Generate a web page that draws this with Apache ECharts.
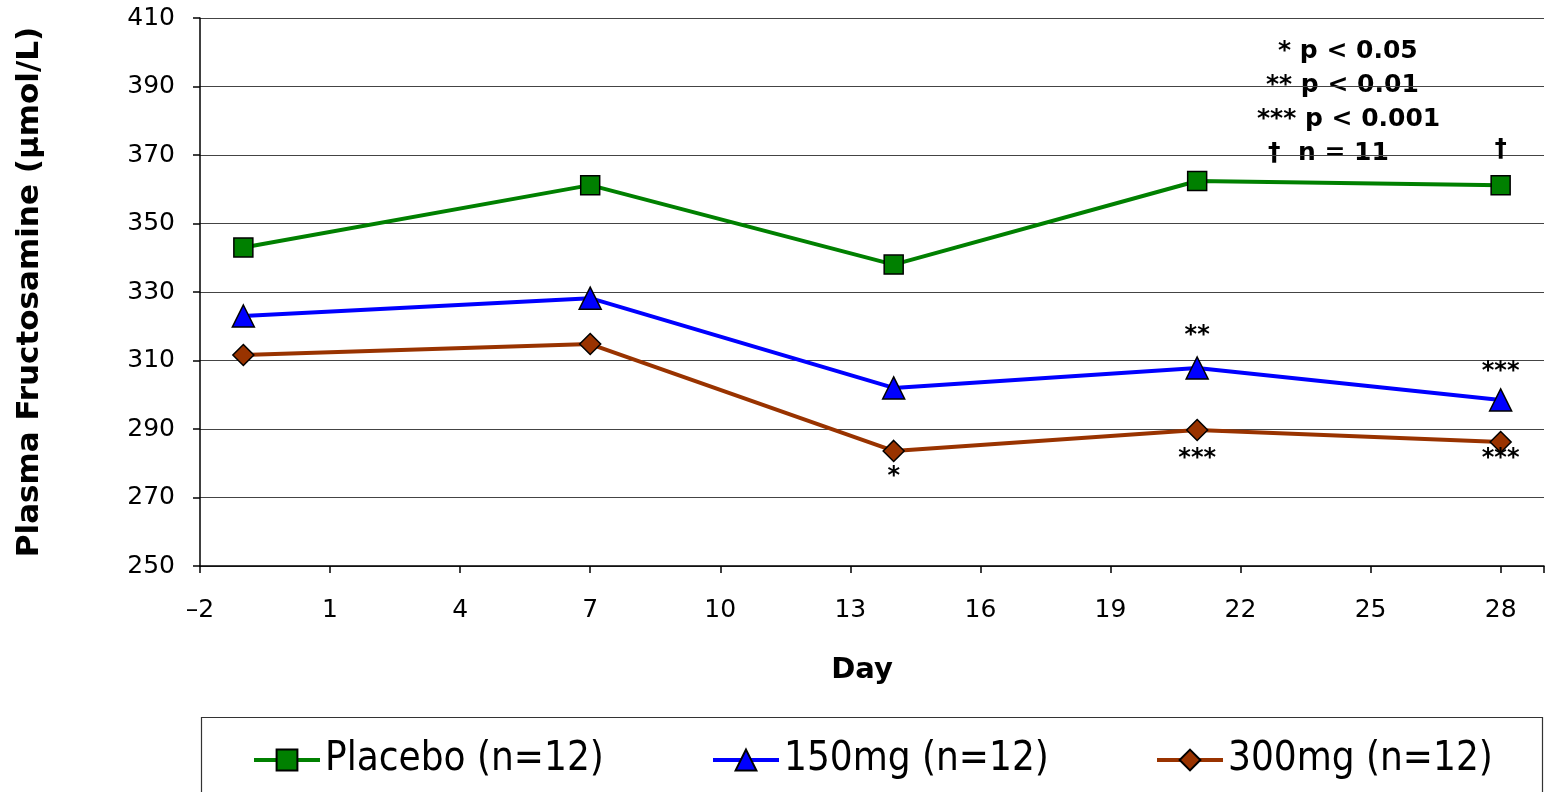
<!DOCTYPE html>
<html>
<head>
<meta charset="utf-8">
<script src="https://cdn.jsdelivr.net/npm/echarts@6/dist/echarts.min.js"></script>
<style>html,body{margin:0;padding:0;background:#fff}#c{width:1547px;height:792px}</style>
</head>
<body>
<div id="c"></div>
<script>
// Data
const days = [-1, 7, 14, 21, 28];
const placebo = [343, 361.2, 338, 362.4, 361.2];
const mg150 = [323, 328.2, 302, 307.8, 298.5];
const mg300 = [311.6, 314.8, 283.6, 289.7, 286.2];
const placeboMarks = ['', '', '', '', '†'];
const mg150Marks = ['', '', '', '**', '***'];
const mg300Marks = ['', '', '*', '***', '***'];
const seriesNames = ['Placebo (n=12)', '150mg (n=12)', '300mg (n=12)'];
const noteLines = ['* p < 0.05', '** p < 0.01', '*** p < 0.001', '†  n = 11'];
const xMin = -2, xMax = 29, xStep = 3;
const yMin = 250, yMax = 410, yStep = 20;

// label placement (styling, not data)
const placeboMarkDist = [0, 0, 0, 0, 13];
const mg150MarkDist = [0, 0, 0, 9, 4];
const mg300MarkDist = [0, 0, 3, 5, -6];

// shift x so that min is a multiple of the interval
const SHIFT = 2;
const font = '"DejaVu Sans", "Open Sans", sans-serif';

function build(vals, marks, pos, dists) {
  return days.map((d, i) => {
    const item = { value: [d + SHIFT, vals[i]] };
    if (marks[i]) {
      item.label = {
        show: true, formatter: marks[i], position: pos, distance: dists[i],
        fontFamily: 'DejaVu Sans', fontSize: 24, fontWeight: 'bold', color: '#000'
      };
    }
    return item;
  });
}

const chart = echarts.init(document.getElementById('c'), null, { renderer: 'canvas' });

chart.setOption({
  animation: false,
  backgroundColor: '#fff',
  grid: { left: 200, right: 0, top: 18, bottom: 226, containLabel: false },
  xAxis: {
    type: 'value',
    min: xMin + SHIFT, max: xMax + SHIFT, interval: xStep,
    name: 'Day', nameLocation: 'middle', nameGap: 90,
    nameTextStyle: { fontFamily: font, fontSize: 29, fontWeight: 'bold', color: '#000', padding: [0, 20, 0, 0] },
    axisLine: { show: true, lineStyle: { color: '#000', width: 1.5 } },
    axisTick: { show: true, length: 7, lineStyle: { color: '#000', width: 1.5 } },
    axisLabel: {
      fontFamily: font, fontSize: 25, color: '#000', margin: 32,
      formatter: v => {
        const d = Math.round(v - SHIFT);
        if ((d - xMin) % xStep !== 0) return '';
        return d < 0 ? '\u2013' + Math.abs(d) : String(d);
      }
    },
    splitLine: { show: false }
  },
  yAxis: {
    type: 'value', min: yMin, max: yMax, interval: yStep,
    name: 'Plasma Fructosamine (\u00b5mol/L)', nameLocation: 'middle', nameGap: 155,
    nameTextStyle: { fontFamily: font, fontSize: 31, fontWeight: 'bold', color: '#000' },
    axisLine: { show: true, lineStyle: { color: '#000', width: 1.5 } },
    axisTick: { show: true, length: 7, lineStyle: { color: '#000', width: 1.5 } },
    axisLabel: { fontFamily: font, fontSize: 25, color: '#000', margin: 25 },
    splitLine: { show: true, lineStyle: { color: '#444', width: 1.2 } }
  },
  legend: [
    { data: [seriesNames[0]], left: 252, top: 740 },
    { data: [seriesNames[1]], left: 711, top: 740 },
    { data: [seriesNames[2]], left: 1155, top: 740 }
  ].map(l => Object.assign(l, {
    padding: 0, itemWidth: 66, itemHeight: 26, itemGap: 5,
    lineStyle: { width: 4 },
    textStyle: { fontFamily: '"DejaVu Sans Condensed", "Liberation Sans Narrow", "Open Sans", sans-serif', fontSize: 40, color: '#000' }
  })),
  graphic: [
    { type: 'rect', left: 199, top: 715, shape: { width: 1341, height: 100 },
      style: { fill: 'none', stroke: '#333', lineWidth: 1.2 }, silent: true },
    ...noteLines.map((t, i) => ({
      type: 'text', left: [1278, 1266, 1257, 1268][i], top: 39 + i * 34,
      style: { text: t, font: 'bold 25px ' + font, fill: '#000' }
    }))
  ],
  series: [
    { name: seriesNames[0], type: 'line', data: build(placebo, placeboMarks, 'top', placeboMarkDist),
      symbol: 'rect', symbolSize: 19,
      lineStyle: { color: '#008000', width: 4 },
      itemStyle: { color: '#008000', borderColor: '#000', borderWidth: 1.5 } },
    { name: seriesNames[1], type: 'line', data: build(mg150, mg150Marks, 'top', mg150MarkDist),
      symbol: 'triangle', symbolSize: 22,
      lineStyle: { color: '#0000ff', width: 4 },
      itemStyle: { color: '#0000ff', borderColor: '#000', borderWidth: 1.5 } },
    { name: seriesNames[2], type: 'line', data: build(mg300, mg300Marks, 'bottom', mg300MarkDist),
      symbol: 'diamond', symbolSize: 21,
      lineStyle: { color: '#993300', width: 4 },
      itemStyle: { color: '#993300', borderColor: '#000', borderWidth: 1.5 } }
  ]
});
</script>
</body>
</html>
